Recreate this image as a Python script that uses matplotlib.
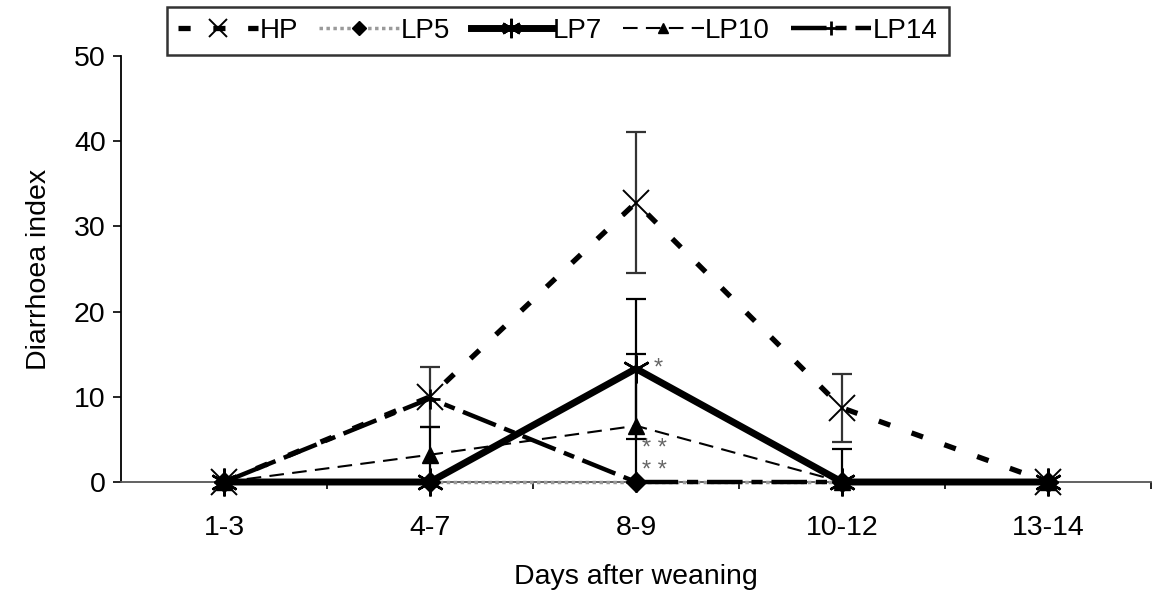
import numpy as np
import matplotlib.pyplot as plt

plt.rcParams['font.family'] = ['Liberation Sans', 'DejaVu Sans']

days = ["1-3", "4-7", "8-9", "10-12", "13-14"]

hp = [0, 10.0, 32.8, 8.7, 0]
hp_err = [0, 3.5, 8.3, 4.0, 0]
lp5 = [0, 0, 0, 0, 0]
lp7 = [0, 0, 13.3, 0, 0]
lp7_err = [0, 0, 8.2, 0, 0]
lp10 = [0, 3.2, 6.6, 0, 0]
lp10_err_low = [0, 3.2, 6.6, 0, 0]
lp10_err_up = [0, 3.2, 8.4, 3.9, 0]
lp14 = [0, 9.8, 0, 0, 0]

# significance marks: (x position, y position, text)
sig_marks = [(2.087, 13.3, "*"), (2.03, 3.9, "* *"), (2.03, 1.35, "* *")]

x = np.arange(len(days))

fig = plt.figure(figsize=(11.57, 5.92), dpi=100)
ax = fig.add_axes([0.1046, 0.1858, 0.8902, 0.7196])

def add_err(yvals, low, up, color="black"):
  yvals = np.array(yvals, dtype=float)
  low = np.array(low, dtype=float)
  up = np.array(up, dtype=float)
  keep = (low > 0) | (up > 0)
  ax.errorbar(x[keep], yvals[keep], yerr=[low[keep], up[keep]], fmt="none",
              ecolor=color, elinewidth=1.6, capsize=7, capthick=1.6, zorder=2, clip_on=False)

add_err(hp, hp_err, hp_err, color="#333333")
add_err(lp7, lp7_err, lp7_err)
add_err(lp10, lp10_err_low, lp10_err_up)

# series lines
ax.plot(x, lp5, color="#9a9a9a", linestyle=(0, (1, 1)), linewidth=2.5,
        marker="D", markersize=10, markerfacecolor="black", markeredgecolor="black",
        label="LP5", zorder=3, clip_on=False)
ax.plot(x, lp14, color="black", linestyle=(0, (8, 2, 2.5, 2)), linewidth=3.2,
        marker="+", markersize=14, markeredgewidth=2, label="LP14", zorder=3, clip_on=False)
ax.plot(x, lp10, color="black", linestyle=(0, (7, 4)), linewidth=1.5,
        marker="^", markersize=11, label="LP10", zorder=4, clip_on=False)
ax.plot(x, lp7, color="black", linestyle="-", linewidth=5,
        marker=(6, 2, 0), markersize=20, markeredgewidth=1.8, label="LP7", zorder=5, clip_on=False)
ax.plot(x, hp, color="black", linestyle=(0, (2.3, 4.3)), linewidth=3.8,
        dash_capstyle="butt", marker="x", markersize=19, markeredgewidth=1.4,
        label="HP", zorder=6, clip_on=False)

for sx, sy, st in sig_marks:
  ax.text(sx, sy, st, fontsize=17, color="#666666", ha="left", va="center")

ax.set_xlim(-0.5, 4.5)
ax.set_ylim(0, 50)
ax.set_yticks([0, 10, 20, 30, 40, 50])
ax.set_xticks(x)
ax.set_xticklabels(days)
ax.set_xticks(np.arange(0.5, 5, 1), minor=True)
ax.tick_params(axis="x", which="major", length=0, pad=24, labelsize=20.5)
ax.tick_params(axis="x", which="minor", length=5, width=1.2, direction="out")
ax.tick_params(axis="y", length=6, width=1.2, labelsize=20.5, pad=5)

for side in ["top", "right"]:
  ax.spines[side].set_visible(False)
ax.spines["left"].set_linewidth(1.3)
ax.spines["bottom"].set_linewidth(1.3)
ax.spines["bottom"].set_color("#555555")

ax.set_xlabel("Days after weaning", fontsize=20.5, labelpad=16)
ax.set_ylabel("Diarrhoea index", fontsize=20.5, labelpad=16)

handles, labels = ax.get_legend_handles_labels()
order = [labels.index(n) for n in ["HP", "LP5", "LP7", "LP10", "LP14"]]
leg = fig.legend([handles[i] for i in order], [labels[i] for i in order],
                 loc="upper left", bbox_to_anchor=(0.144, 0.988), ncol=5,
                 fontsize=20, frameon=True, fancybox=False, edgecolor="black",
                 handlelength=2.9, handletextpad=0.05, columnspacing=0.75,
                 borderpad=0.4, borderaxespad=0, markerscale=0.7)
leg.get_frame().set_linewidth(1.8)

fig.savefig("out.png", dpi=100)
